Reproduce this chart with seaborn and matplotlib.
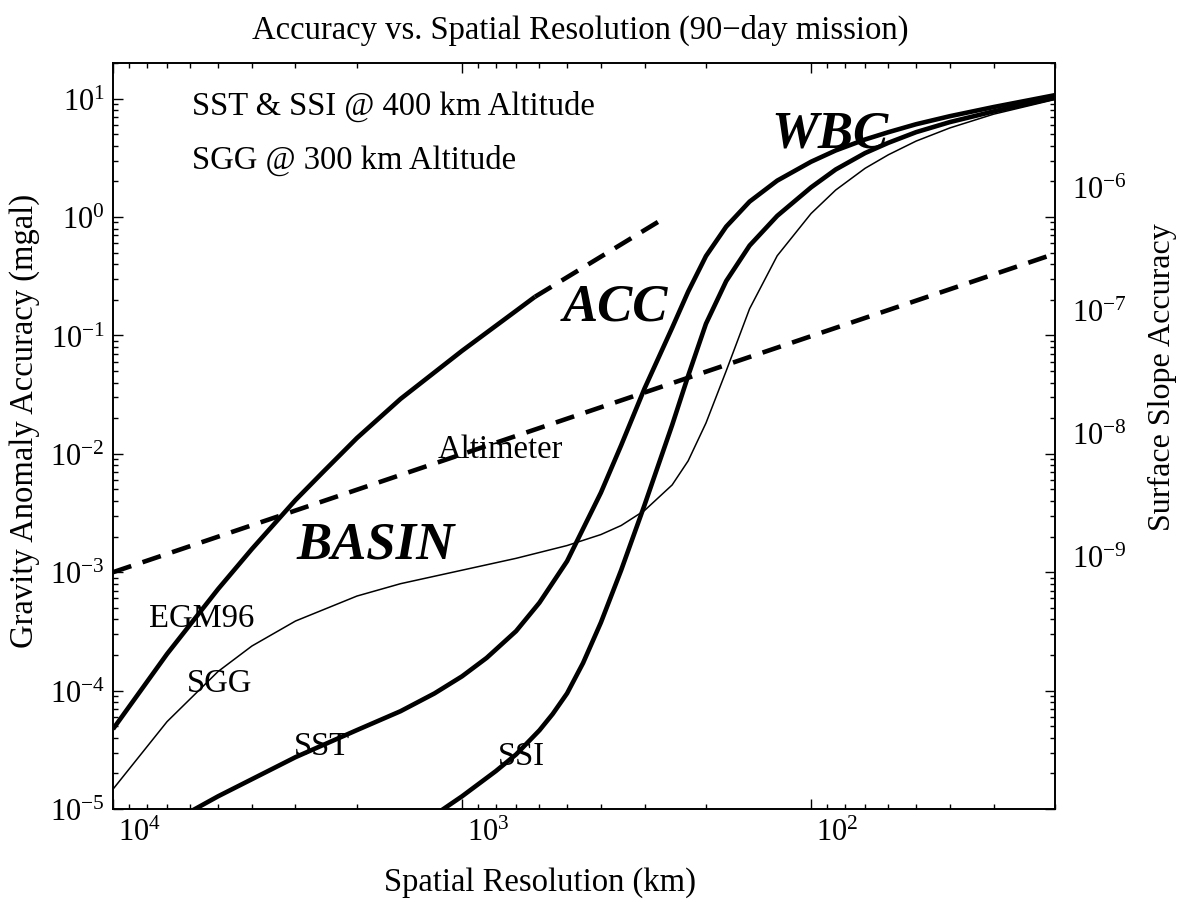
import numpy as np
import pandas as pd
import matplotlib
matplotlib.use("Agg")
import matplotlib.pyplot as plt
import matplotlib.ticker as mticker
import matplotlib.transforms as mtransforms
import seaborn as sns

# ---------------- data ----------------
egm_res = [10000, 7000, 5000, 4000, 3000, 2500, 2000, 1500, 1000, 700, 618]
egm_acc = [4.73e-5, 2.04e-4, 7.2e-4, 1.57e-3, 4.07e-3, 7.03e-3, 1.36e-2,
           2.91e-2, 7.41e-2, 0.1614, 0.212]

egm_ext_res = [618, 265]
egm_ext_acc = [0.212, 0.968]

alt_res = [10000, 20]
alt_acc = [1.0e-3, 0.49]

sgg_res = [10000, 7000, 5000, 4000, 3000, 2000, 1500, 1000, 700, 500, 400, 350,
           300, 250, 225, 200, 175, 150, 125, 100, 85, 70, 60, 50, 40, 30, 20]
sgg_acc = [1.47e-5, 5.47e-5, 1.45e-4, 2.38e-4, 3.87e-4, 6.29e-4, 8.0e-4, 1.04e-3,
           1.31e-3, 1.68e-3, 2.08e-3, 2.48e-3, 3.32e-3, 5.46e-3, 8.71e-3, 1.82e-2,
           5.02e-2, 0.168, 0.471, 1.07, 1.69, 2.58, 3.36, 4.38, 5.66, 7.39, 9.84]

sst_res = [7000, 5000, 3000, 2000, 1500, 1200, 1000, 850, 700, 600, 500, 400,
           350, 300, 250, 225, 200, 175, 150, 125, 100, 85, 70, 60, 50, 40, 30, 20]
sst_acc = [7.4e-6, 1.28e-5, 2.74e-5, 4.64e-5, 6.7e-5, 9.46e-5, 1.32e-4, 1.89e-4,
           3.18e-4, 5.53e-4, 1.24e-3, 4.70e-3, 1.18e-2, 3.56e-2, 0.116, 0.234,
           0.468, 0.83, 1.35, 2.03, 2.93, 3.65, 4.52, 5.21, 6.08, 7.11, 8.49, 10.7]

ssi_res = [1500, 1000, 800, 700, 600, 550, 500, 450, 400, 350, 300, 250, 225,
           200, 175, 150, 125, 100, 85, 70, 60, 50, 40, 30, 20]
ssi_acc = [5.66e-6, 1.28e-5, 2.09e-5, 2.89e-5, 4.62e-5, 6.34e-5, 9.48e-5,
           1.71e-4, 3.76e-4, 1.04e-3, 3.69e-3, 1.75e-2, 4.55e-2, 0.1256, 0.288,
           0.574, 1.023, 1.78, 2.52, 3.47, 4.24, 5.21, 6.34, 7.80, 10.2]

x_ticks = [1e4, 1e3, 1e2]
y_ticks = [1e-5, 1e-4, 1e-3, 1e-2, 1e-1, 1e0, 1e1]
right_ticks = [1e-9, 1e-8, 1e-7, 1e-6]

title = "Accuracy vs. Spatial Resolution (90\u2212day mission)"
xlabel = "Spatial Resolution (km)"
ylabel = "Gravity Anomaly Accuracy (mgal)"
ylabel2 = "Surface Slope Accuracy"

# ---------------- style ----------------
sns.set_theme(style="ticks")
plt.rcParams["font.family"] = ["Liberation Serif", "DejaVu Serif"]
plt.rcParams["mathtext.fontset"] = "custom"
plt.rcParams["mathtext.rm"] = "Liberation Serif"
plt.rcParams["mathtext.it"] = "Liberation Serif:italic"
plt.rcParams["mathtext.bf"] = "Liberation Serif:bold"
plt.rcParams["axes.unicode_minus"] = True
for k in ["text.color", "axes.labelcolor", "xtick.color", "ytick.color",
          "axes.edgecolor"]:
    plt.rcParams[k] = "black"

W, H = 1181, 903
fig = plt.figure(figsize=(W / 100, H / 100), dpi=100)
L, R, T, B = 113, 1055, 64, 810
ax = fig.add_axes([L / W, 1 - B / H, (R - L) / W, (B - T) / H])
ax.set_xscale("log")
ax.set_yscale("log")
ax.set_xlim(1e4, 20)
ax.set_ylim(1e-5, 20)

thick = 3.3
thin = 1.1

def draw(xs, ys, lw, ls="-", dashes=None):
    df = pd.DataFrame({"res": xs, "acc": ys})
    sns.lineplot(data=df, x="res", y="acc", ax=ax, sort=False, estimator=None,
                 color="black", linewidth=lw, linestyle=ls)
    line = ax.lines[-1]
    if dashes is not None:
        line.set_dashes(dashes)
    line.set_solid_capstyle("butt")
    line.set_solid_joinstyle("round")

draw(egm_res, egm_acc, thick)
draw(egm_ext_res, egm_ext_acc, thick, "--", dashes=(4.2, 2.6))
draw(alt_res, alt_acc, thick, "--", dashes=(4.2, 2.6))
draw(sgg_res, sgg_acc, thin)
draw(sst_res, sst_acc, thick)
draw(ssi_res, ssi_acc, thick)

ax.set_xlim(1e4, 20)
ax.set_ylim(1e-5, 20)
ax.set_xlabel("")
ax.set_ylabel("")

ax2 = ax.twinx()
ax2.set_yscale("log")
ax2.set_ylim(8.8e-12, 1.02e-5)
ax2.yaxis.set_major_locator(mticker.FixedLocator(right_ticks))
ax2.yaxis.set_minor_locator(mticker.NullLocator())
ax2.yaxis.set_major_formatter(mticker.LogFormatterSciNotation())
ax2.tick_params(axis="y", length=0, labelsize=22, pad=12, colors="black")
for s in ax2.spines.values():
    s.set_visible(False)

for s in ax.spines.values():
    s.set_linewidth(1.4)
    s.set_color("black")

# fixed tick positions (only inside the view)
x_minor = [m * 10 ** e for e in (1, 2, 3) for m in range(2, 10) if 20 <= m * 10 ** e < 1e4]
y_minor = [m * 10.0 ** e for e in range(-5, 2) for m in range(2, 10) if m * 10.0 ** e <= 20]
ax.xaxis.set_major_locator(mticker.FixedLocator(x_ticks))
ax.xaxis.set_minor_locator(mticker.FixedLocator(x_minor))
ax.yaxis.set_major_locator(mticker.FixedLocator(y_ticks))
ax.yaxis.set_minor_locator(mticker.FixedLocator(y_minor))
ax.xaxis.set_major_formatter(mticker.LogFormatterSciNotation())
ax.yaxis.set_major_formatter(mticker.LogFormatterSciNotation())
ax.xaxis.set_minor_formatter(mticker.NullFormatter())
ax.yaxis.set_minor_formatter(mticker.NullFormatter())

ax.tick_params(which="both", direction="in", top=True, right=True,
               bottom=True, left=True, colors="black", width=1.0)
ax.tick_params(which="major", length=7, labelsize=22, pad=6)
ax.tick_params(which="minor", length=3.5)

shift = mtransforms.ScaledTranslation(5 / 100, 0, fig.dpi_scale_trans)
for lab in ax.get_xticklabels():
    lab.set_horizontalalignment("left")
    lab.set_transform(lab.get_transform() + shift)

# ---------------- texts ----------------
fig.text(580 / W, 1 - 30 / H, title, ha="center", va="center", fontsize=23.5)
fig.text(540 / W, 1 - 883 / H, xlabel, ha="center", va="center", fontsize=23.5)
fig.text(25 / W, 1 - 421 / H, ylabel, ha="center", va="center", rotation=90, fontsize=23.5)
fig.text(1162 / W, 1 - 377 / H, ylabel2, ha="center", va="center", rotation=90, fontsize=23)

ax.text(0.0839, 0.943, "SST & SSI @ 400 km Altitude", transform=ax.transAxes,
        ha="left", va="center", fontsize=23.5)
ax.text(0.0839, 0.871, "SGG @ 300 km Altitude", transform=ax.transAxes,
        ha="left", va="center", fontsize=23.5)

for txt, fx, fy in [("EGM96", 0.0945, 0.257), ("SGG", 0.1136, 0.169),
                    ("SST", 0.222, 0.0845), ("SSI", 0.433, 0.071),
                    ("Altimeter", 0.411, 0.483)]:
    ax.text(fx, fy, txt, transform=ax.transAxes, ha="center", va="center", fontsize=23.5)

for txt, fx, fy in [("BASIN", 0.279, 0.354), ("ACC", 0.533, 0.673), ("WBC", 0.761, 0.905)]:
    ax.text(fx, fy, txt, transform=ax.transAxes, ha="center", va="center",
            fontsize=38, fontweight="bold", fontstyle="italic")

fig.savefig("out.png", dpi=100, facecolor="white")
